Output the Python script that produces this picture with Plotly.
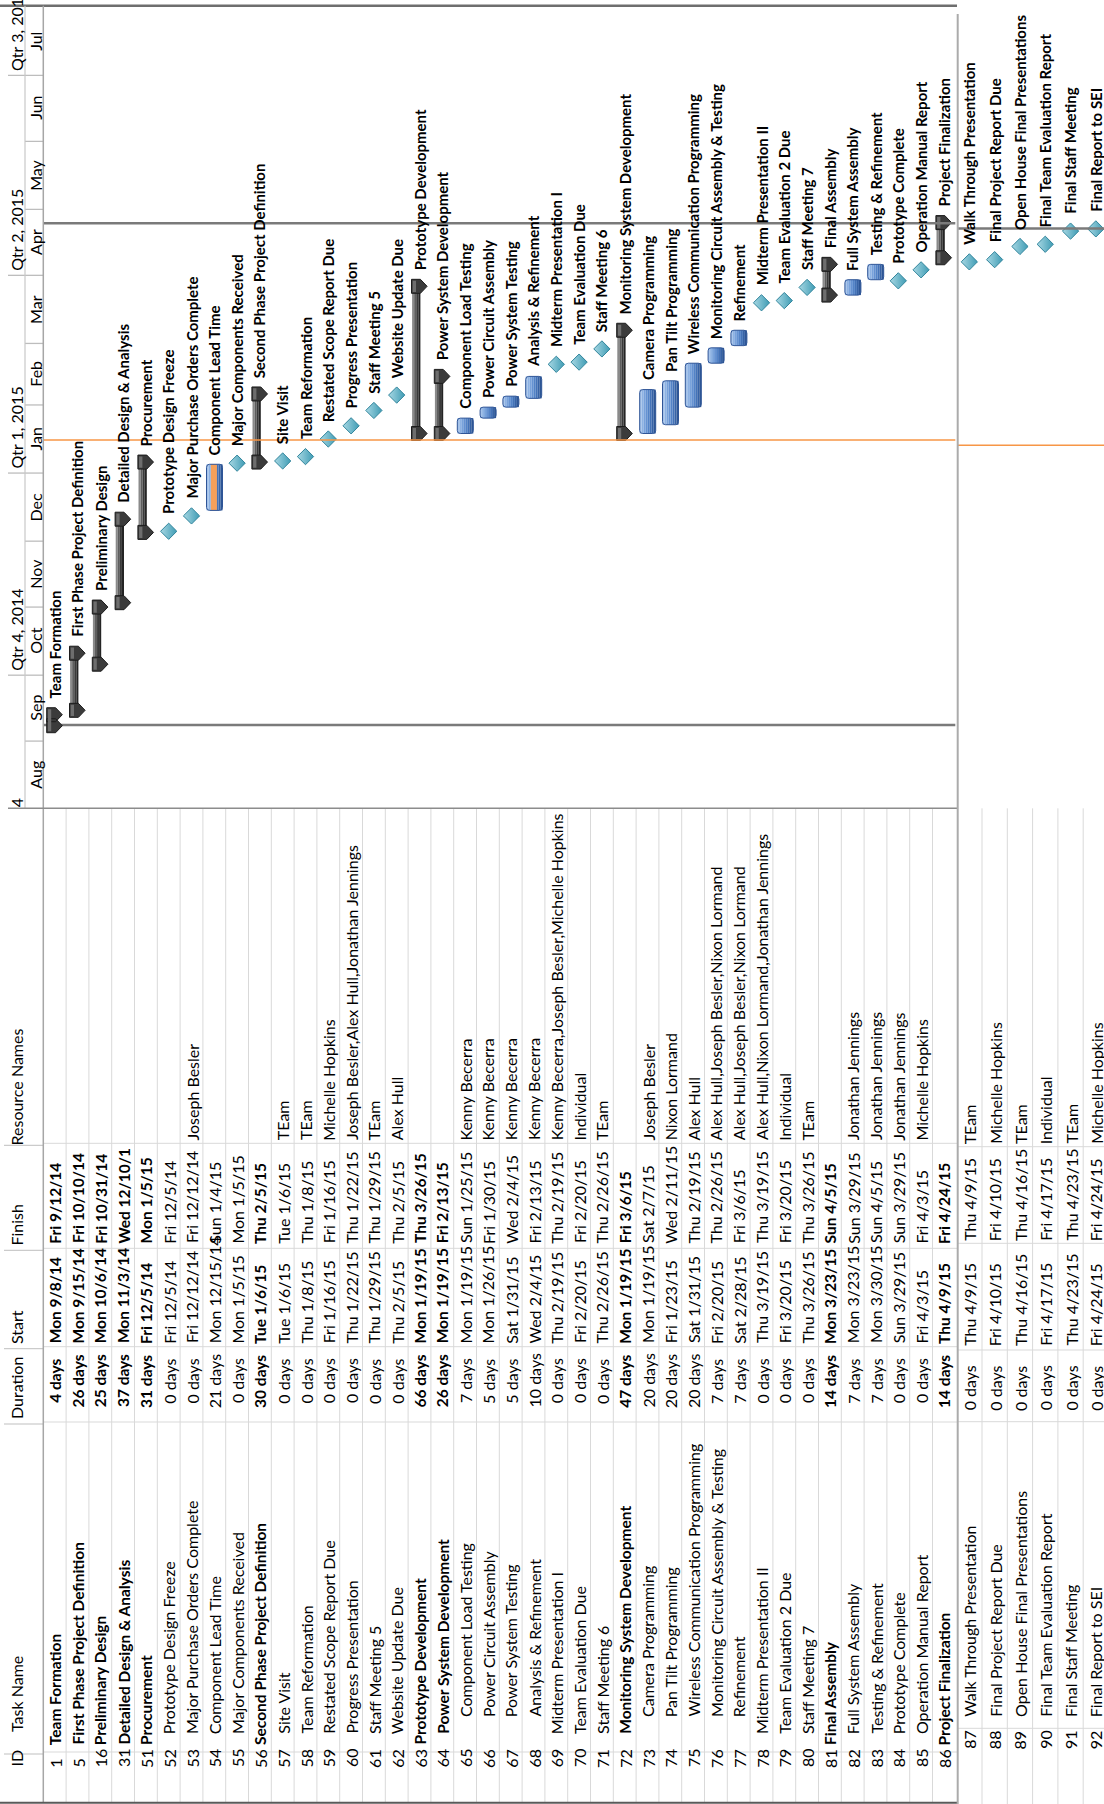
import plotly.graph_objects as go
from datetime import datetime, timedelta

W, H = 1104, 1804
FONT = "Lato"
FS = 16          # table text
FS_BOLD = 15.5   # bold table text
FS_LABEL = 15    # gantt bar labels

# ---------------- data ----------------
ids = [1, 5, 16, 31, 51, 52, 53, 54, 55, 56, 57, 58, 59, 60, 61, 62, 63, 64, 65, 66, 67, 68, 69, 70,
       71, 72, 73, 74, 75, 76, 77, 78, 79, 80, 81, 82, 83, 84, 85, 86, 87, 88, 89, 90, 91, 92]
task_names = ["Team Formation", "First Phase Project Definition", "Preliminary Design",
              "Detailed Design & Analysis", "Procurement", "Prototype Design Freeze",
              "Major Purchase Orders Complete", "Component Lead Time", "Major Components Received",
              "Second Phase Project Definition", "Site Visit", "Team Reformation",
              "Restated Scope Report Due", "Progress Presentation", "Staff Meeting 5",
              "Website Update Due", "Prototype Development", "Power System Development",
              "Component Load Testing", "Power Circuit Assembly", "Power System Testing",
              "Analysis & Refinement", "Midterm Presentation I", "Team Evaluation Due",
              "Staff Meeting 6", "Monitoring System Development", "Camera Programming",
              "Pan Tilt Programming", "Wireless Communication Programming",
              "Monitoring Circuit Assembly & Testing", "Refinement", "Midterm Presentation II",
              "Team Evaluation 2 Due", "Staff Meeting 7", "Final Assembly", "Full System Assembly",
              "Testing & Refinement", "Prototype Complete", "Operation Manual Report",
              "Project Finalization", "Walk Through Presentation", "Final Project Report Due",
              "Open House Final Presentations", "Final Team Evaluation Report",
              "Final Staff Meeting", "Final Report to SEI"]
outline_levels = [1, 1, 1, 1, 1, 2, 2, 2, 2, 1, 2, 2, 2, 2, 2, 2, 1, 2, 3, 3, 3, 3, 2, 2,
                  2, 2, 3, 3, 3, 3, 3, 2, 2, 2, 1, 2, 2, 2, 2, 1, 2, 2, 2, 2, 2, 2]
summary_ids = [1, 5, 16, 31, 51, 56, 63, 64, 72, 81, 86]
duration_days = [4, 26, 25, 37, 31, 0, 0, 21, 0, 30, 0, 0, 0, 0, 0, 0, 66, 26, 7, 5, 5, 10, 0, 0,
                 0, 47, 20, 20, 20, 7, 7, 0, 0, 0, 14, 7, 7, 0, 0, 14, 0, 0, 0, 0, 0, 0]
start_labels = ["Mon 9/8/14", "Mon 9/15/14", "Mon 10/6/14", "Mon 11/3/14", "Fri 12/5/14",
                "Fri 12/5/14", "Fri 12/12/14", "Mon 12/15/14", "Mon 1/5/15", "Tue 1/6/15",
                "Tue 1/6/15", "Thu 1/8/15", "Fri 1/16/15", "Thu 1/22/15", "Thu 1/29/15",
                "Thu 2/5/15", "Mon 1/19/15", "Mon 1/19/15", "Mon 1/19/15", "Mon 1/26/15",
                "Sat 1/31/15", "Wed 2/4/15", "Thu 2/19/15", "Fri 2/20/15", "Thu 2/26/15",
                "Mon 1/19/15", "Mon 1/19/15", "Fri 1/23/15", "Sat 1/31/15", "Fri 2/20/15",
                "Sat 2/28/15", "Thu 3/19/15", "Fri 3/20/15", "Thu 3/26/15", "Mon 3/23/15",
                "Mon 3/23/15", "Mon 3/30/15", "Sun 3/29/15", "Fri 4/3/15", "Thu 4/9/15",
                "Thu 4/9/15", "Fri 4/10/15", "Thu 4/16/15", "Fri 4/17/15", "Thu 4/23/15",
                "Fri 4/24/15"]
finish_labels = ["Fri 9/12/14", "Fri 10/10/14", "Fri 10/31/14", "Wed 12/10/14", "Mon 1/5/15",
                 "Fri 12/5/14", "Fri 12/12/14", "Sun 1/4/15", "Mon 1/5/15", "Thu 2/5/15",
                 "Tue 1/6/15", "Thu 1/8/15", "Fri 1/16/15", "Thu 1/22/15", "Thu 1/29/15",
                 "Thu 2/5/15", "Thu 3/26/15", "Fri 2/13/15", "Sun 1/25/15", "Fri 1/30/15",
                 "Wed 2/4/15", "Fri 2/13/15", "Thu 2/19/15", "Fri 2/20/15", "Thu 2/26/15",
                 "Fri 3/6/15", "Sat 2/7/15", "Wed 2/11/15", "Thu 2/19/15", "Thu 2/26/15",
                 "Fri 3/6/15", "Thu 3/19/15", "Fri 3/20/15", "Thu 3/26/15", "Sun 4/5/15",
                 "Sun 3/29/15", "Sun 4/5/15", "Sun 3/29/15", "Fri 4/3/15", "Fri 4/24/15",
                 "Thu 4/9/15", "Fri 4/10/15", "Thu 4/16/15", "Fri 4/17/15", "Thu 4/23/15",
                 "Fri 4/24/15"]
finish_shown = {31: "Wed 12/10/1"}  # text cut off by the column edge in the printout
resource_names = ["", "", "", "", "", "", "Joseph Besler", "", "", "", "TEam", "TEam",
                  "Michelle Hopkins", "Joseph Besler,Alex Hull,Jonathan Jennings", "TEam",
                  "Alex Hull", "", "", "Kenny Becerra", "Kenny Becerra", "Kenny Becerra",
                  "Kenny Becerra", "Kenny Becerra,Joseph Besler,Michelle Hopkins", "Individual",
                  "TEam", "", "Joseph Besler", "Nixon Lormand", "Alex Hull",
                  "Alex Hull,Joseph Besler,Nixon Lormand", "Alex Hull,Joseph Besler,Nixon Lormand",
                  "Alex Hull,Nixon Lormand,Jonathan Jennings", "Individual", "TEam", "",
                  "Jonathan Jennings", "Jonathan Jennings", "Jonathan Jennings",
                  "Michelle Hopkins", "", "TEam", "Michelle Hopkins", "TEam", "Individual",
                  "TEam", "Michelle Hopkins"]
header_labels = ["ID", "Task Name", "Duration", "Start", "Finish", "Resource Names"]
month_names = ["Aug", "Sep", "Oct", "Nov", "Dec", "Jan", "Feb", "Mar", "Apr", "May", "Jun", "Jul"]
month_starts = ["2014-08-01", "2014-09-01", "2014-10-01", "2014-11-01", "2014-12-01",
                "2015-01-01", "2015-02-01", "2015-03-01", "2015-04-01", "2015-05-01",
                "2015-06-01", "2015-07-01", "2015-08-01"]
quarter_labels = ["Qtr 4, 2014", "Qtr 1, 2015", "Qtr 2, 2015", "Qtr 3, 2015"]
quarter_starts = ["2014-10-01", "2015-01-01", "2015-04-01", "2015-07-01"]
partial_quarter_label = "4"
timeline_start, timeline_end = "2014-08-01", "2015-08-01"
project_start = "2014-09-08 08:00"
project_finish = "2015-04-24 17:00"
status_date = "2015-01-16"
ROWS_ON_PAGE1 = 40

# ---------------- geometry / style ----------------
P1_LEFT, P1_ROW = 43.3, 22.8          # px
P2_LEFT, P2_ROW = 956.7, 25.3
PAGE_BREAK = 957.0
P1_Y0, P1_PPD = 809.2, 2.197          # px of timeline_start, px per day
P2_Y0, P2_PPD = 814.4, 2.197
TBL_TOP, TBL_BOT = 808.3, 1802.7
P1_COLS = [1143.3, 1248.3, 1346.7, 1422.0, 1752.0]
P2_COLS = [1146.7, 1243.3, 1350.0, 1421.7, 1728.3]


def parse(s):
    m, d, y = s.split()[1].split("/")
    return datetime(2000 + int(y), int(m), int(d))


def py(p):
    return 1 - p / H


def px(p):
    return p / W


starts = [parse(s) for s in start_labels]
ends = [parse(s) + timedelta(days=1) for s in finish_labels]
is_summary = [i in summary_ids for i in ids]
is_mile = [d == 0 for d in duration_days]

span_days = (datetime.fromisoformat(timeline_end) - datetime.fromisoformat(timeline_start)).days

fig = go.Figure()

pages = [
    dict(xa="x", ya="y", rows=list(range(0, ROWS_ON_PAGE1)), roww=P1_ROW, ppd=P1_PPD),
    dict(xa="x2", ya="y2", rows=list(range(ROWS_ON_PAGE1, len(ids))), roww=P2_ROW, ppd=P2_PPD),
]


def u(pxoff, roww):
    return pxoff / roww - 0.5


task_grad = ["#A4C2EA", "#8DB2E3", "#78A2DB", "#6592D2", "#5383C7", "#4473B8", "#3763A6", "#2D5695"]
sum_grad = ["#8a8a8a", "#5e5e5e", "#3a3a3a", "#242424"]

for pg in pages:
    xa, ya, rows, roww, ppd = pg["xa"], pg["ya"], pg["rows"], pg["roww"], pg["ppd"]
    base_idx = rows[0] if rows else 0
    tasks = [r for r in rows if not is_summary[r] and not is_mile[r]]
    sums = [r for r in rows if is_summary[r]]
    miles = [r for r in rows if is_mile[r]]

    if tasks:
        x0, x1 = 3.6, 19.6
        n = len(task_grad)
        sw = (x1 - x0) / n
        for k, c in enumerate(task_grad):
            fig.add_trace(go.Bar(
                x=[r - base_idx for r in tasks],
                y=[(ends[r] - starts[r]).total_seconds() * 1000 for r in tasks],
                base=[starts[r].isoformat() for r in tasks],
                width=sw / roww, offset=u(x0 + k * sw, roww),
                marker=dict(color=c, line=dict(width=0)),
                xaxis=xa, yaxis=ya, hoverinfo="skip"))
        lead = [r for r in tasks if task_names[r] == "Component Lead Time"]
        if lead:
            fig.add_trace(go.Bar(
                x=[r - base_idx for r in lead],
                y=[(ends[r] - starts[r]).total_seconds() * 1000 for r in lead],
                base=[starts[r].isoformat() for r in lead],
                width=6 / roww, offset=u(8.0, roww),
                marker=dict(color="#F5A05A", line=dict(width=0)),
                xaxis=xa, yaxis=ya, hoverinfo="skip"))
        fig.add_trace(go.Bar(
            x=[r - base_idx for r in tasks],
            y=[(ends[r] - starts[r]).total_seconds() * 1000 for r in tasks],
            base=[starts[r].isoformat() for r in tasks],
            width=(x1 - x0) / roww, offset=u(x0, roww),
            marker=dict(color="rgba(0,0,0,0)", line=dict(color="#2F5597", width=1), cornerradius=3),
            xaxis=xa, yaxis=ya, hoverinfo="skip"))

    if sums:
        x0, x1 = 4.0, 12.3
        n = len(sum_grad)
        sw = (x1 - x0) / n
        for k, c in enumerate(sum_grad):
            fig.add_trace(go.Bar(
                x=[r - base_idx for r in sums],
                y=[(ends[r] - starts[r]).total_seconds() * 1000 for r in sums],
                base=[starts[r].isoformat() for r in sums],
                width=sw / roww, offset=u(x0 + k * sw, roww),
                marker=dict(color=c, line=dict(width=0)),
                xaxis=xa, yaxis=ya, hoverinfo="skip"))
        hh = timedelta(days=7.0 / ppd)
        xl, xr, xt = 3.4, 12.3, 19.0
        cx, cy = [], []
        for r in sums:
            xc = r - base_idx
            for d in (starts[r], ends[r]):
                cx += [xc + u(xl, roww), xc + u(xr, roww), xc + u(xt, roww), xc + u(xr, roww),
                       xc + u(xl, roww), xc + u(xl, roww), None]
                cy += [d - hh, d - hh, d, d + hh, d + hh, d - hh, None]
        fig.add_trace(go.Scatter(x=cx, y=cy, mode="lines", fill="toself", fillcolor="#3b3b3b",
                                 line=dict(color="#1c1c1c", width=1), xaxis=xa, yaxis=ya,
                                 hoverinfo="skip"))
        hx, hy = [], []
        for r in sums:
            xc = r - base_idx
            for d in (starts[r], ends[r]):
                a, b = xc + u(xl + 1.2, roww), xc + u(xl + 4.5, roww)
                e = hh * 0.8
                hx += [a, b, b, a, a, None]
                hy += [d - e, d - e, d + e, d + e, d - e, None]
        fig.add_trace(go.Scatter(x=hx, y=hy, mode="lines", fill="toself", fillcolor="#6e6e6e",
                                 line=dict(width=0), xaxis=xa, yaxis=ya, hoverinfo="skip"))

    if miles:
        fig.add_trace(go.Scatter(
            x=[r - base_idx for r in miles],
            y=[starts[r] + timedelta(hours=12) for r in miles],
            mode="markers",
            marker=dict(symbol="diamond", size=12.5, color="#A7D7E3",
                        gradient=dict(type="horizontal", color="#3F9CB4"),
                        line=dict(color="#31859C", width=1)),
            xaxis=xa, yaxis=ya, hoverinfo="skip"))

    for r in rows:
        xc = r - base_idx
        if is_mile[r]:
            yv, shift = starts[r] + timedelta(hours=12), 16
        elif is_summary[r]:
            yv, shift = ends[r], 15
        else:
            yv, shift = ends[r], 8
        fig.add_annotation(x=xc, y=yv, xref=xa, yref=ya, text="<b>%s</b>" % task_names[r],
                           textangle=-90, showarrow=False, xanchor="center", yanchor="bottom",
                           yshift=shift, font=dict(family=FONT, size=FS_LABEL, color="#000"),
                           borderpad=0)

    xend = len(rows) - 0.5 if xa == "x" else 6
    fig.add_shape(type="line", xref=xa, yref=ya, x0=-0.5, x1=xend,
                  y0=project_finish, y1=project_finish, line=dict(color="#7a7a7a", width=2.5),
                  layer="above")
    fig.add_shape(type="line", xref=xa, yref=ya, x0=-0.5, x1=xend,
                  y0=status_date, y1=status_date, line=dict(color="#F79646", width=1.5),
                  layer="above")
    if xa == "x":
        fig.add_shape(type="line", xref=xa, yref=ya, x0=-0.5, x1=xend,
                      y0=project_start, y1=project_start, line=dict(color="#7a7a7a", width=2.5),
                      layer="below")

# ---------------- timescale ----------------
ms = [datetime.fromisoformat(m) for m in month_starts]
for i, name in enumerate(month_names):
    mid = ms[i] + (ms[i + 1] - ms[i]) / 2
    fig.add_annotation(x=px(35.5), y=mid, xref="paper", yref="y", text=name, textangle=-90,
                       showarrow=False, xanchor="center", yanchor="middle",
                       font=dict(family=FONT, size=FS, color="#000"))
for m in month_starts[1:-1]:
    fig.add_shape(type="line", xref="paper", yref="y", x0=px(25), x1=px(P1_LEFT), y0=m, y1=m,
                  line=dict(color="#BDBDBD", width=1.3))
for q, qs in zip(quarter_labels, quarter_starts):
    fig.add_annotation(x=px(16.5), y=qs, xref="paper", yref="y", text=q, textangle=-90,
                       showarrow=False, xanchor="center", yanchor="bottom", yshift=3,
                       font=dict(family=FONT, size=FS, color="#000"), borderpad=0)
    fig.add_shape(type="line", xref="paper", yref="y", x0=px(8), x1=px(25), y0=qs, y1=qs,
                  line=dict(color="#BDBDBD", width=1.3))
fig.add_annotation(x=px(16.5), y=timeline_start, xref="paper", yref="y", text=partial_quarter_label,
                   textangle=-90, showarrow=False, xanchor="center", yanchor="bottom", yshift=1,
                   font=dict(family=FONT, size=FS, color="#000"), borderpad=0)

# ---------------- table ----------------
def cell(xa, xc, ypx, text, anchor="bottom", bold=False):
    fig.add_annotation(x=xc, y=py(ypx), xref=xa, yref="paper",
                       text=("<b>%s</b>" % text) if bold else text, textangle=-90,
                       showarrow=False, xanchor="center", yanchor=anchor, borderpad=0,
                       font=dict(family=FONT, size=FS_BOLD if bold else FS, color="#000"))


level_px = {1: 1746.0, 2: 1735.0, 3: 1718.0}
for r in range(ROWS_ON_PAGE1):
    b = is_summary[r]
    cell("x", r, 1768.5, str(ids[r]))
    cell("x", r, level_px[outline_levels[r]], task_names[r], bold=b)
    cell("x", r, 1381.0, "%d days" % duration_days[r], anchor="middle", bold=b)
    cell("x", r, 1344.5, start_labels[r], bold=b)
    cell("x", r, 1244.5, finish_shown.get(ids[r], finish_labels[r]), bold=b)
    if resource_names[r]:
        cell("x", r, 1141.5, resource_names[r])
for r in range(ROWS_ON_PAGE1, len(ids)):
    k = r - ROWS_ON_PAGE1
    b = is_summary[r]
    cell("x2", k, 1750.0, str(ids[r]))
    cell("x2", k, 1718.0, task_names[r], bold=b)
    cell("x2", k, 1388.0, "%d days" % duration_days[r], anchor="middle", bold=b)
    cell("x2", k, 1347.0, start_labels[r], bold=b)
    cell("x2", k, 1242.0, finish_labels[r], bold=b)
    if resource_names[r]:
        cell("x2", k, 1145.0, resource_names[r])

hdr_y = [1768.0, 1733.0, 1420.0, 1345.0, 1247.0, 1147.0]
for t, yy in zip(header_labels, hdr_y):
    fig.add_annotation(x=px(16), y=py(yy), xref="paper", yref="paper", text=t, textangle=-90,
                       showarrow=False, xanchor="center", yanchor="bottom", borderpad=0,
                       font=dict(family=FONT, size=FS, color="#000"))

GRID = "#D9D9D9"
for i in range(1, ROWS_ON_PAGE1):
    fig.add_shape(type="line", xref="x", yref="paper", x0=i - 0.5, x1=i - 0.5,
                  y0=py(TBL_TOP), y1=py(TBL_BOT), line=dict(color=GRID, width=1))
for k in range(1, len(ids) - ROWS_ON_PAGE1 + 1):
    fig.add_shape(type="line", xref="x2", yref="paper", x0=k - 0.5, x1=k - 0.5,
                  y0=py(TBL_TOP), y1=0, line=dict(color=GRID, width=1))
for c in P1_COLS:
    fig.add_shape(type="line", xref="paper", yref="paper", x0=px(P1_LEFT), x1=px(PAGE_BREAK),
                  y0=py(c), y1=py(c), line=dict(color=GRID, width=1))
    fig.add_shape(type="line", xref="paper", yref="paper", x0=px(4), x1=px(P1_LEFT),
                  y0=py(c + 2), y1=py(c + 2), line=dict(color="#BFBFBF", width=1))
for c in P2_COLS:
    fig.add_shape(type="line", xref="paper", yref="paper", x0=px(PAGE_BREAK), x1=1,
                  y0=py(c), y1=py(c), line=dict(color=GRID, width=1))


def pline(x0, y0, x1, y1, color, width):
    fig.add_shape(type="line", xref="paper", yref="paper", x0=px(x0), x1=px(x1), y0=py(y0),
                  y1=py(y1), line=dict(color=color, width=width), layer="above")


pline(0, 5.7, PAGE_BREAK, 5.7, "#6E6E6E", 2.5)
pline(P1_LEFT, 5.7, P1_LEFT, TBL_BOT, "#A6A6A6", 1.5)
pline(25, 5.7, 25, TBL_TOP, "#C8C8C8", 1.2)
pline(8, TBL_TOP, PAGE_BREAK, TBL_TOP, "#8C8C8C", 1.5)
pline(0, TBL_BOT, PAGE_BREAK, TBL_BOT, "#5A5A5A", 2)
pline(PAGE_BREAK + 0.7, 14, PAGE_BREAK + 0.7, H, "#ABABAB", 2)

fig.update_layout(
    width=W, height=H, margin=dict(l=0, r=0, t=0, b=0),
    paper_bgcolor="white", plot_bgcolor="white", showlegend=False, barmode="overlay",
    xaxis=dict(domain=[0, px(PAGE_BREAK)],
               range=[(0 - P1_LEFT) / P1_ROW - 0.5, (PAGE_BREAK - P1_LEFT) / P1_ROW - 0.5],
               visible=False, fixedrange=True),
    xaxis2=dict(domain=[px(PAGE_BREAK), 1],
                range=[(PAGE_BREAK - P2_LEFT) / P2_ROW - 0.5, (W - P2_LEFT) / P2_ROW - 0.5],
                visible=False, fixedrange=True),
    yaxis=dict(type="date", domain=[py(P1_Y0), py(P1_Y0 - P1_PPD * span_days)],
               range=[timeline_start, timeline_end], visible=False, anchor="x", fixedrange=True),
    yaxis2=dict(type="date", domain=[py(P2_Y0), py(P2_Y0 - P2_PPD * span_days)],
                range=[timeline_start, timeline_end], visible=False, anchor="x2",
                fixedrange=True),
)
fig.write_html("out.html", config={"displayModeBar": False},
               post_script="document.body.style.margin='0px';document.body.style.overflow='hidden';")
